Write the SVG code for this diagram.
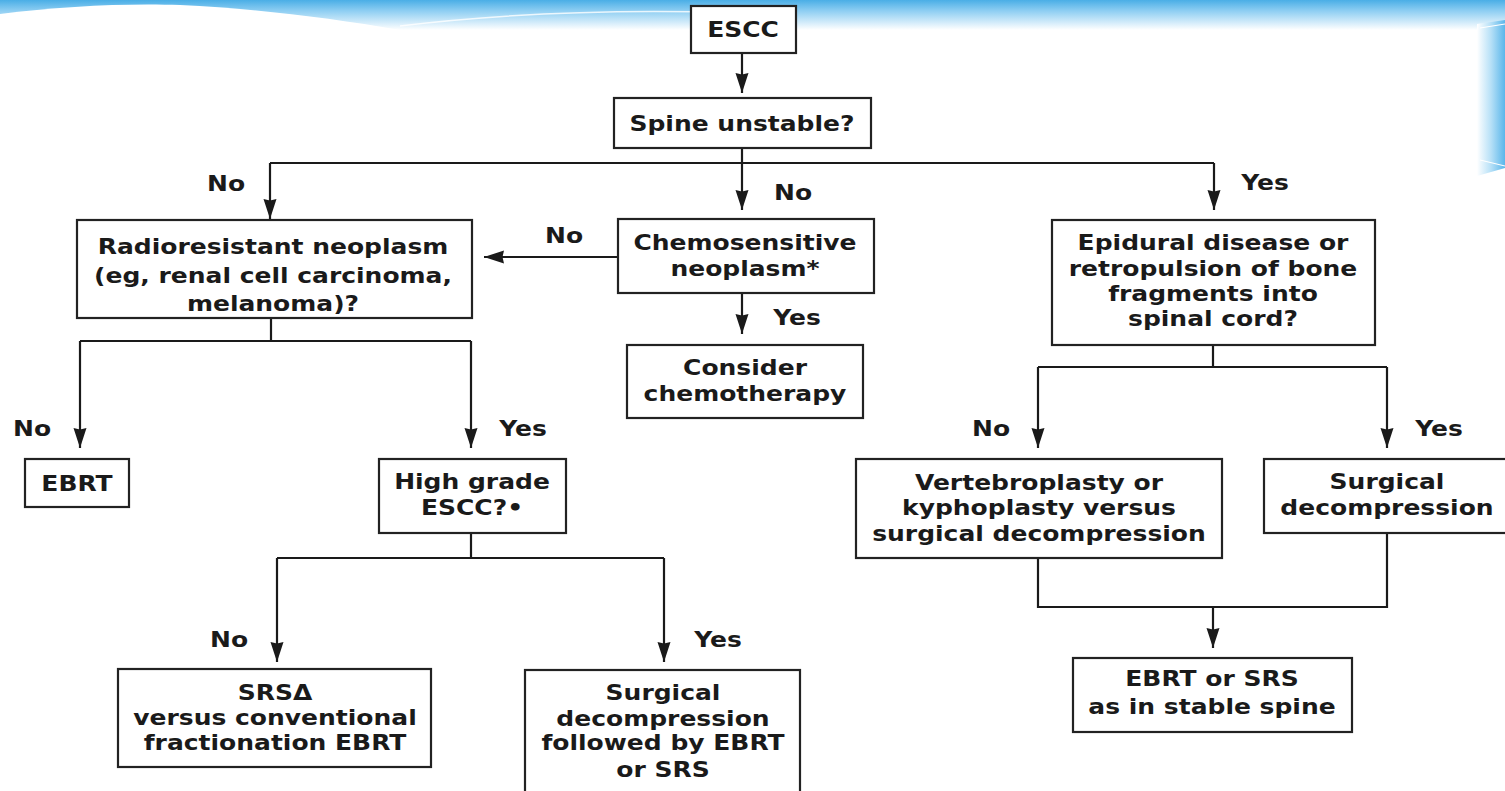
<svg xmlns="http://www.w3.org/2000/svg" width="1505" height="791" viewBox="0 0 1505 791">
<defs>
  <linearGradient id="topband" x1="0" y1="0" x2="0" y2="1">
    <stop offset="0" stop-color="#4aaee6"/>
    <stop offset="0.35" stop-color="#8ccdf2"/>
    <stop offset="1" stop-color="#ffffff"/>
  </linearGradient>
  <linearGradient id="sideband" x1="0" y1="0" x2="1" y2="0">
    <stop offset="0" stop-color="#ffffff"/>
    <stop offset="0.5" stop-color="#b6e0f7"/>
    <stop offset="1" stop-color="#5ab6ea"/>
  </linearGradient>
  <marker id="ah" markerUnits="userSpaceOnUse" markerWidth="22" markerHeight="16" viewBox="0 0 22 16" refX="20" refY="7" orient="auto">
    <path d="M0,0.5 L20,7 L0,13.5 L1.5,7 z" fill="#1a1a1a"/>
  </marker>
  <style>
    .box{fill:#ffffff;stroke:#222;stroke-width:2.2}
    .ln{fill:none;stroke:#1a1a1a;stroke-width:2.2}
    .ar{fill:none;stroke:#1a1a1a;stroke-width:2.2;marker-end:url(#ah)}
    .t{font-family:"DejaVu Sans","Verdana",sans-serif;font-weight:bold;font-size:21px;fill:#1a1a1a;text-anchor:middle}
  </style>
</defs>
<rect x="0" y="0" width="1505" height="791" fill="#ffffff"/>
<g id="background">
  <rect x="0" y="0" width="1505" height="30" fill="url(#topband)"/>
  <path d="M0,14 C60,6 130,3 180,5 C260,9 330,18 400,30 L0,30 z" fill="#ffffff"/>
  <path d="M400,26 C500,14 620,9 740,13" fill="none" stroke="#ffffff" stroke-width="1.5" opacity="0.8"/>
  <polygon points="1477,24 1505,20 1505,168 1477,176" fill="url(#sideband)"/>
  <path d="M1480,28 L1505,24" stroke="#ffffff" stroke-width="1.2"/>
  <path d="M1480,160 L1505,166" stroke="#ffffff" stroke-width="1.2"/>
</g>
<g id="connectors">
  <path class="ar" d="M742,53 V93"/>
  <path class="ln" d="M742,148 V163 M270,163 H1214"/>
  <path class="ar" d="M270,163 V219"/>
  <path class="ar" d="M742,163 V210"/>
  <path class="ar" d="M1214,163 V210"/>
  <path class="ar" d="M618,257 H484"/>
  <path class="ar" d="M742,293 V334"/>
  <path class="ln" d="M271,318 V341 M80,341 H471"/>
  <path class="ar" d="M80,341 V448"/>
  <path class="ar" d="M471,341 V448"/>
  <path class="ln" d="M471,533 V558 M277,558 H664"/>
  <path class="ar" d="M277,558 V662"/>
  <path class="ar" d="M664,558 V662"/>
  <path class="ln" d="M1213,345 V367 M1038,367 H1387"/>
  <path class="ar" d="M1038,367 V448"/>
  <path class="ar" d="M1387,367 V448"/>
  <path class="ln" d="M1038,558 V607 H1387 V533"/>
  <path class="ar" d="M1213,607 V648"/>
</g>
<g id="labels">
  <text class="t" transform="translate(226 0) scale(1.19 1)" y="191">No</text>
  <text class="t" transform="translate(793 0) scale(1.19 1)" y="200">No</text>
  <text class="t" transform="translate(1265 0) scale(1.19 1)" y="190">Yes</text>
  <text class="t" transform="translate(564 0) scale(1.19 1)" y="243">No</text>
  <text class="t" transform="translate(797 0) scale(1.19 1)" y="325">Yes</text>
  <text class="t" transform="translate(32 0) scale(1.19 1)" y="436">No</text>
  <text class="t" transform="translate(523 0) scale(1.19 1)" y="436">Yes</text>
  <text class="t" transform="translate(229 0) scale(1.19 1)" y="647">No</text>
  <text class="t" transform="translate(718 0) scale(1.19 1)" y="647">Yes</text>
  <text class="t" transform="translate(991 0) scale(1.19 1)" y="436">No</text>
  <text class="t" transform="translate(1439 0) scale(1.19 1)" y="436">Yes</text>
</g>
<g id="n-escc">
  <rect class="box" x="691" y="6" width="105" height="47"/>
  <text class="t" transform="translate(743 0) scale(1.19 1)" y="37">ESCC</text>
</g>
<g id="n-spine">
  <rect class="box" x="614" y="98" width="257" height="50"/>
  <text class="t" transform="translate(742 0) scale(1.19 1)" y="131">Spine unstable?</text>
</g>
<g id="n-radio">
  <rect class="box" x="77" y="220" width="395" height="98"/>
  <text class="t" transform="translate(273 0) scale(1.19 1)"><tspan x="0" y="254">Radioresistant neoplasm</tspan><tspan x="0" y="283">(eg, renal cell carcinoma,</tspan><tspan x="0" y="311">melanoma)?</tspan></text>
</g>
<g id="n-chemo">
  <rect class="box" x="618" y="219" width="256" height="74"/>
  <text class="t" transform="translate(745 0) scale(1.19 1)"><tspan x="0" y="250">Chemosensitive</tspan><tspan x="0" y="276">neoplasm*</tspan></text>
</g>
<g id="n-consider">
  <rect class="box" x="627" y="345" width="236" height="73"/>
  <text class="t" transform="translate(745 0) scale(1.19 1)"><tspan x="0" y="375">Consider</tspan><tspan x="0" y="401">chemotherapy</tspan></text>
</g>
<g id="n-epidural">
  <rect class="box" x="1052" y="220" width="323" height="125"/>
  <text class="t" transform="translate(1213 0) scale(1.19 1)"><tspan x="0" y="250">Epidural disease or</tspan><tspan x="0" y="276">retropulsion of bone</tspan><tspan x="0" y="301">fragments into</tspan><tspan x="0" y="326">spinal cord?</tspan></text>
</g>
<g id="n-ebrt">
  <rect class="box" x="25" y="459" width="104" height="48"/>
  <text class="t" transform="translate(77 0) scale(1.19 1)" y="491">EBRT</text>
</g>
<g id="n-highgrade">
  <rect class="box" x="379" y="459" width="187" height="74"/>
  <text class="t" transform="translate(472 0) scale(1.19 1)"><tspan x="0" y="489">High grade</tspan><tspan x="0" y="515">ESCC?•</tspan></text>
</g>
<g id="n-vertebro">
  <rect class="box" x="856" y="459" width="366" height="99"/>
  <text class="t" transform="translate(1039 0) scale(1.19 1)"><tspan x="0" y="490">Vertebroplasty or</tspan><tspan x="0" y="515">kyphoplasty versus</tspan><tspan x="0" y="541">surgical decompression</tspan></text>
</g>
<g id="n-surgical">
  <rect class="box" x="1264" y="459" width="246" height="74"/>
  <text class="t" transform="translate(1387 0) scale(1.19 1)"><tspan x="0" y="489">Surgical</tspan><tspan x="0" y="515">decompression</tspan></text>
</g>
<g id="n-ebrtsrs">
  <rect class="box" x="1073" y="658" width="279" height="74"/>
  <text class="t" transform="translate(1212 0) scale(1.19 1)"><tspan x="0" y="686">EBRT or SRS</tspan><tspan x="0" y="714">as in stable spine</tspan></text>
</g>
<g id="n-srs">
  <rect class="box" x="118" y="669" width="313" height="98"/>
  <text class="t" transform="translate(275 0) scale(1.19 1)"><tspan x="0" y="700">SRSΔ</tspan><tspan x="0" y="725">versus conventional</tspan><tspan x="0" y="750">fractionation EBRT</tspan></text>
</g>
<g id="n-surgfollow">
  <rect class="box" x="525" y="670" width="275" height="130"/>
  <text class="t" transform="translate(663 0) scale(1.19 1)"><tspan x="0" y="700">Surgical</tspan><tspan x="0" y="726">decompression</tspan><tspan x="0" y="750">followed by EBRT</tspan><tspan x="0" y="777">or SRS</tspan></text>
</g>
</svg>
